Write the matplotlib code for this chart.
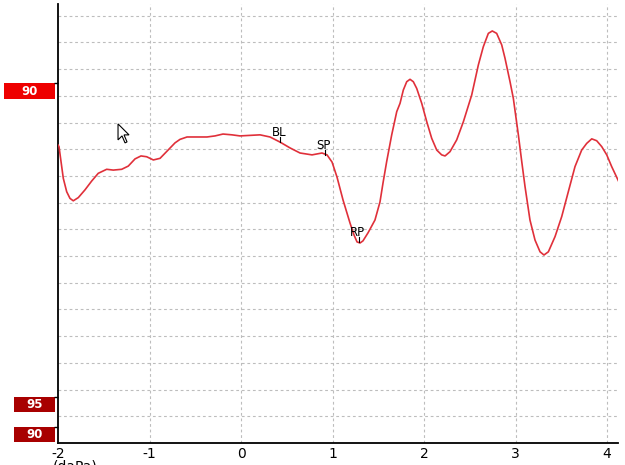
import matplotlib
matplotlib.use("Agg")
import matplotlib.pyplot as plt
import matplotlib.transforms as mtransforms
from matplotlib.patches import Rectangle, Polygon

# Curve (x in daPa, y in grid units)
pressure = [-2.000, -1.989, -1.967, -1.942, -1.905, -1.869, -1.833, -1.778, -1.705, -1.632,
            -1.560, -1.468, -1.396, -1.304, -1.232, -1.158, -1.093, -1.031, -0.958, -0.885,
            -0.831, -0.721, -0.667, -0.590, -0.481, -0.372, -0.284, -0.197, -0.098, -0.011,
            0.098, 0.208, 0.317, 0.426, 0.536, 0.645, 0.776, 0.885, 0.940, 0.995,
            1.049, 1.115, 1.191, 1.235, 1.268, 1.301, 1.333, 1.388, 1.464, 1.519,
            1.552, 1.592, 1.647, 1.702, 1.738, 1.774, 1.811, 1.847, 1.883, 1.920,
            1.975, 2.030, 2.084, 2.139, 2.193, 2.230, 2.284, 2.357, 2.430, 2.521,
            2.594, 2.648, 2.703, 2.746, 2.794, 2.849, 2.885, 2.940, 2.976, 3.031,
            3.068, 3.104, 3.158, 3.213, 3.268, 3.311, 3.359, 3.432, 3.505, 3.577,
            3.650, 3.723, 3.778, 3.833, 3.887, 3.942, 3.997, 4.051, 4.124]
response = [11.16, 11.10, 10.54, 9.91, 9.41, 9.16, 9.07, 9.19, 9.48, 9.81,
            10.10, 10.25, 10.22, 10.25, 10.37, 10.64, 10.75, 10.72, 10.60, 10.66,
            10.85, 11.24, 11.37, 11.46, 11.46, 11.46, 11.50, 11.57, 11.54, 11.50,
            11.52, 11.54, 11.46, 11.27, 11.05, 10.86, 10.79, 10.86, 10.79, 10.52,
            9.96, 9.10, 8.24, 7.79, 7.53, 7.49, 7.57, 7.87, 8.35, 9.03,
            9.74, 10.54, 11.54, 12.41, 12.72, 13.22, 13.53, 13.62, 13.53, 13.28,
            12.72, 12.03, 11.41, 10.97, 10.79, 10.75, 10.91, 11.35, 12.03, 13.03,
            14.16, 14.84, 15.34, 15.43, 15.34, 14.91, 14.41, 13.53, 12.91, 11.54,
            10.54, 9.60, 8.35, 7.60, 7.16, 7.04, 7.16, 7.73, 8.48, 9.41,
            10.35, 10.97, 11.22, 11.39, 11.32, 11.10, 10.79, 10.35, 9.82]

marker_labels = ["BL", "SP", "RP"]
marker_x = [0.43, 0.92, 1.29]
marker_y = [11.27, 10.79, 7.53]

x_ticks = [-2, -1, 0, 1, 2, 3, 4]
level_labels = ["90", "95", "90"]
level_y = [13.48, 1.72, 0.60]
level_colors = ["#ee0000", "#a80000", "#a80000"]

fig = plt.figure(figsize=(6.25, 4.65), dpi=100)
ax = fig.add_axes([0.0928, 0.0473, 0.8960, 0.9441])

ax.set_xlim(-2, 4.12)
ax.set_ylim(0, 16.44)

# dashed grid
for xv in x_ticks[1:]:
    ax.axvline(xv, color="#bdbdbd", lw=0.8, ls=(0, (2.5, 2.5)), zorder=0)
for yv in range(1, 17):
    ax.axhline(yv, color="#bdbdbd", lw=0.8, ls=(0, (2.5, 2.5)), zorder=0)

ax.plot(pressure, response, color="#e0303a", lw=1.2, zorder=3)

# BL / SP / RP markers
for lab, mx, my in zip(marker_labels, marker_x, marker_y):
    ax.plot([mx, mx], [my, my + 0.2], color="black", lw=0.8, zorder=4)
    ax.annotate(lab, (mx, my), xytext=(-1, 7), textcoords="offset points",
                ha="center", va="center", fontsize=8.5, color="black", zorder=5)

for s in ["top", "right"]:
    ax.spines[s].set_visible(False)
ax.spines["left"].set_linewidth(1.3)
ax.spines["bottom"].set_linewidth(1.3)

ax.set_xticks(x_ticks)
ax.set_xticklabels([str(v) for v in x_ticks], fontsize=10)
ax.tick_params(axis="x", length=0, pad=3)
ax.set_yticks(level_y)
ax.set_yticklabels([])
ax.tick_params(axis="y", length=3, width=1, direction="out")

# level boxes left of the axis
blend = mtransforms.blended_transform_factory(ax.transAxes, ax.transData)
box_left = [-0.0964, -0.0786, -0.0786]
box_h = [0.60, 0.56, 0.56]
for lab, yv, col, bl, bh in zip(level_labels, level_y, level_colors, box_left, box_h):
    ax.add_patch(Rectangle((bl, yv - bh), -0.006 - bl, bh, transform=blend,
                           facecolor=col, edgecolor="none", clip_on=False))
    ax.text((bl - 0.006) / 2, yv - bh / 2, lab, transform=blend, ha="center", va="center",
            color="white", fontsize=8.5, fontweight="bold")

# mouse pointer
tip = (-1.344, 11.95)
arrow = [(0, 0), (0, -0.16), (0.04, -0.12), (0.07, -0.19), (0.09, -0.18), (0.06, -0.11), (0.11, -0.11)]
ptr_trans = fig.dpi_scale_trans + mtransforms.ScaledTranslation(tip[0], tip[1], ax.transData)
ax.add_patch(Polygon(arrow, closed=True, transform=ptr_trans, facecolor="white",
                     edgecolor="black", lw=0.8, zorder=6))

fig.text(0.085, 0.011, "(daPa)", fontsize=10, va="top", ha="left")

fig.savefig("out.png", dpi=100)
